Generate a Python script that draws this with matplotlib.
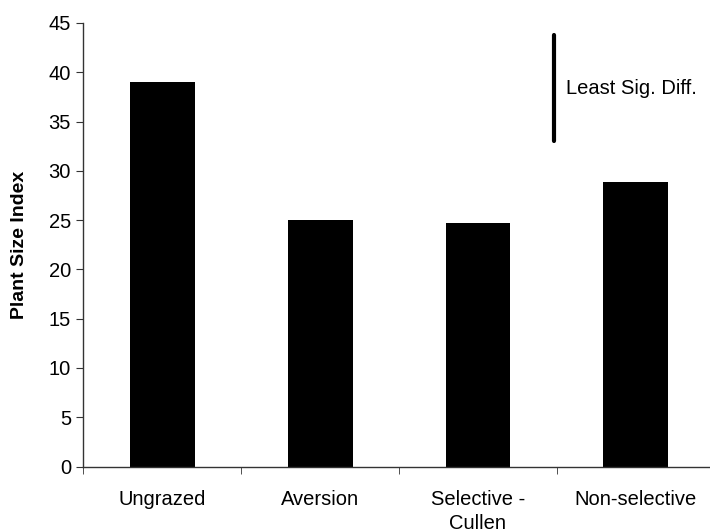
import numpy as np
import matplotlib.pyplot as plt

plt.rcParams['font.family'] = ['Liberation Sans', 'DejaVu Sans']

# データ
categories = ["Ungrazed", "Aversion", "Selective -\nCullen", "Non-selective"]
plant_size = [39.0, 25.0, 24.7, 28.9]
lsd_range = [33.0, 43.8]  # Least Sig. Diff. の縦線
yticks = np.arange(0, 50, 5)

fig = plt.figure(figsize=(7.1, 5.32), dpi=100)
ax = fig.add_axes([0.1176, 0.1231, 0.889, 0.8337])

x = np.arange(len(categories))
ax.bar(x, plant_size, width=0.41, color='black')

# LSD の線とラベル
ax.plot([2.48, 2.48], lsd_range, color='black', lw=3, solid_capstyle='round')
ax.text(2.555, np.mean(lsd_range), "Least Sig. Diff.", va='center', ha='left', fontsize=14.5)

ax.set_xlim(-0.5, len(categories) - 0.5)
ax.set_ylim(0, 45)
ax.set_yticks(yticks)
ax.set_xticks(x)
ax.set_xticklabels(categories, fontsize=14.5, va='top', linespacing=1.3)
ax.set_xticks(np.arange(len(categories) + 1) - 0.5, minor=True)
ax.tick_params(axis='x', which='major', length=0, pad=17)
ax.tick_params(axis='x', which='minor', length=5, direction='out', color='#333333')
ax.tick_params(axis='y', length=5, direction='out', labelsize=14.5, color='#333333', pad=4)
ax.set_ylabel("Plant Size Index", fontsize=14, fontweight='bold', labelpad=15)

for s in ['top', 'right']:
    ax.spines[s].set_visible(False)
for s in ['left', 'bottom']:
    ax.spines[s].set_color('#333333')
    ax.spines[s].set_linewidth(1)

plt.savefig("out.png", dpi=100)
